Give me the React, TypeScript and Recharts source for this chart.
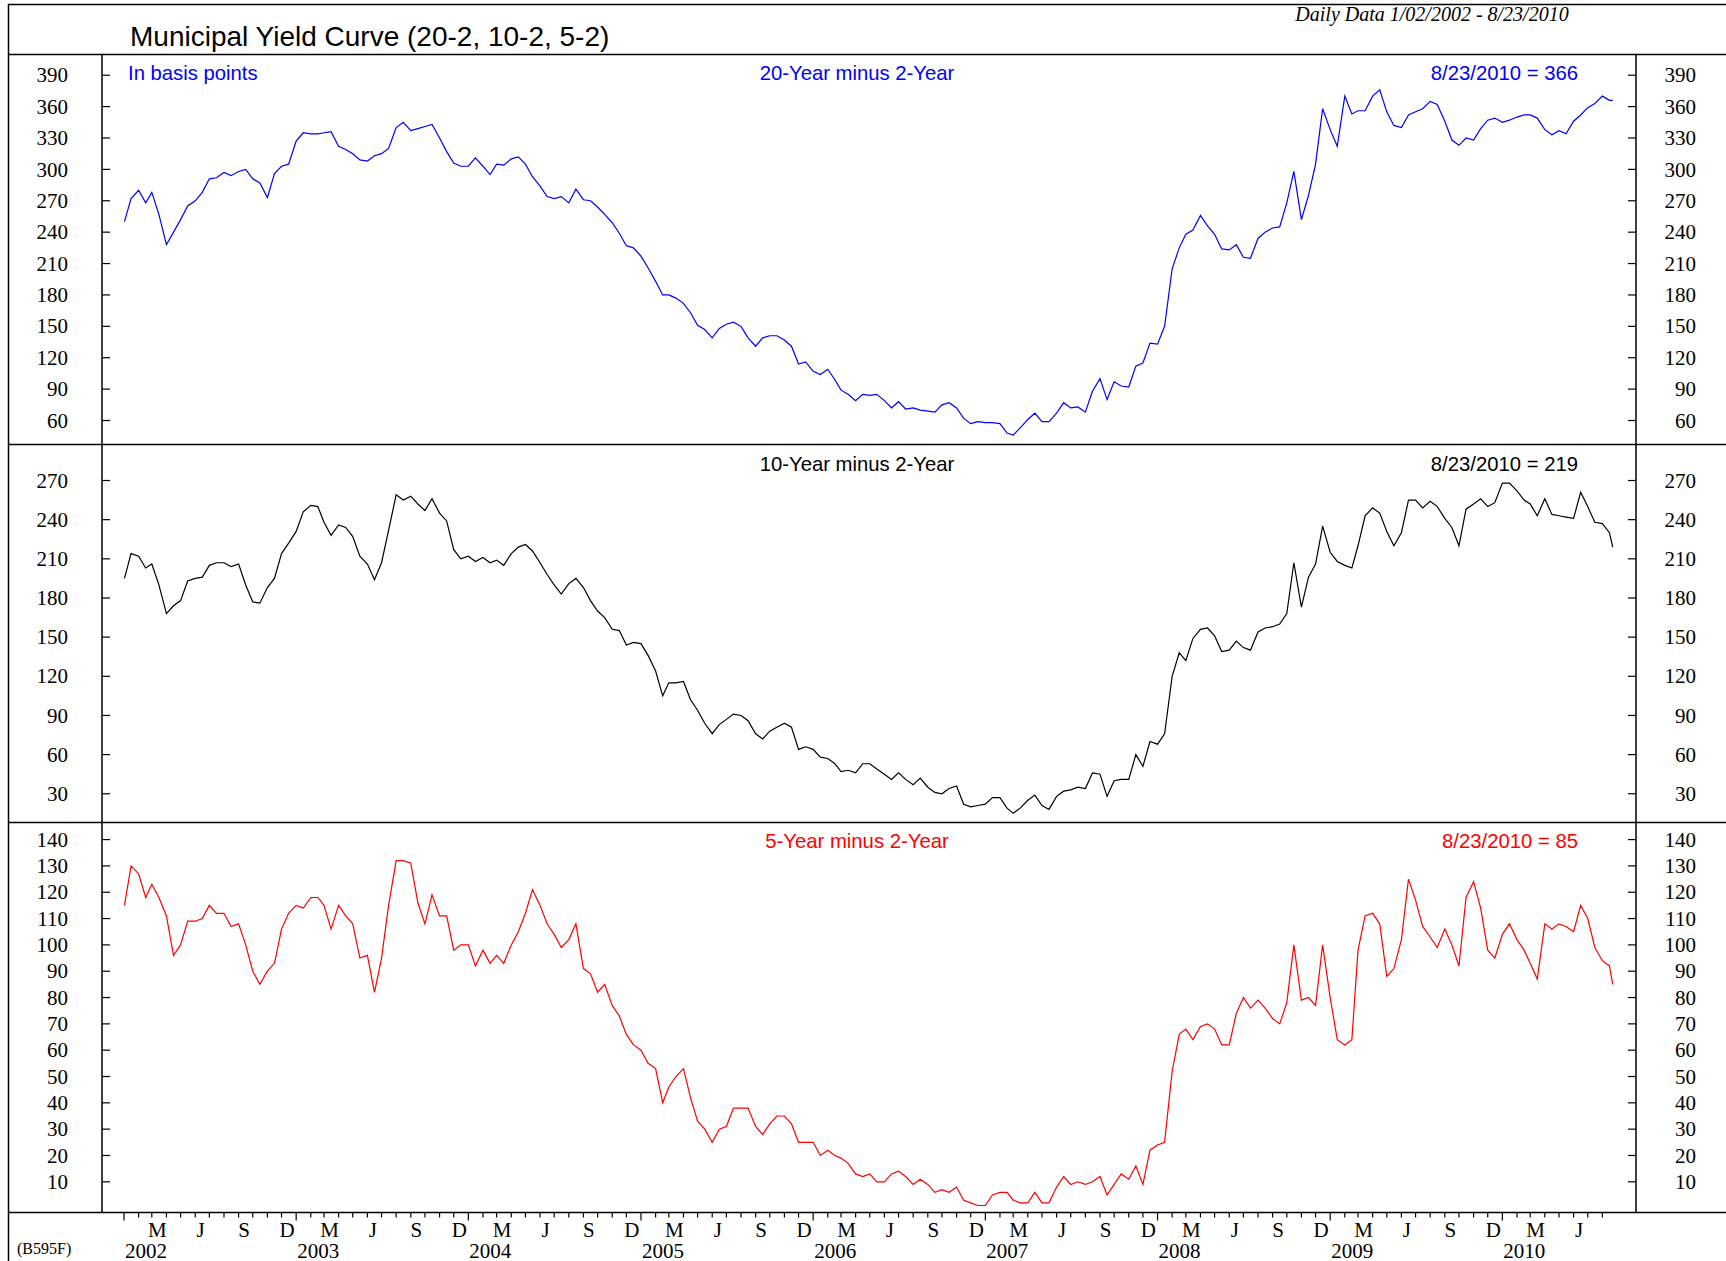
import React from 'react';
import { LineChart, Line, XAxis, YAxis } from 'recharts';

// ---------- data (semi-monthly readings, 1st & 16th of each month; first 1/02/2002, last 8/23/2010) ----------
const years = [2002, 2003, 2004, 2005, 2006, 2007, 2008, 2009, 2010];
const monthLetters = ['', '', 'M', '', '', 'J', '', '', 'S', '', '', 'D'];

const spread20_2 = [
  250, 272, 280, 268, 278, 257, 228, 240, 252, 265, 270, 278, 291, 292, 297, 294, 298, 300, 291, 287, 273, 296, 303, 305,
  327, 335, 334, 334, 335, 336, 322, 319, 315, 309, 308, 313, 315, 320, 340, 345, 337, 339, 341, 343, 330, 317, 306, 303,
  303, 311, 303, 295, 305, 304, 310, 312, 305, 293, 284, 274, 272, 274, 268, 281, 271, 270, 264, 257, 249, 239, 227, 225,
  217, 206, 193, 180, 180, 177, 172, 163, 151, 147, 139, 148, 152, 154, 150, 139, 131, 139, 141, 141, 137, 131, 114, 116,
  107, 104, 109, 99, 89, 85, 79, 85, 84, 85, 79, 72, 78, 71, 72, 70, 69, 68, 75, 77, 72, 62, 57, 59,
  58, 58, 57, 48, 46, 53, 61, 67, 59, 59, 67, 77, 72, 73, 68, 88, 100, 80, 97, 93, 92, 112, 115, 134,
  133, 150, 205, 225, 238, 242, 256, 246, 238, 224, 223, 228, 216, 215, 234, 240, 244, 245, 268, 298, 252, 275, 305, 358,
  338, 322, 370, 353, 356, 356, 370, 376, 355, 342, 340, 352, 355, 358, 365, 362, 346, 328, 323, 330, 328, 339, 347, 349,
  345, 347, 350, 352, 352, 349, 338, 333, 337, 334, 346, 352, 359, 363, 370, 366, 366,
];

const spread10_2 = [
  195, 214, 212, 203, 206, 190, 168, 174, 178, 193, 195, 196, 205, 207, 207, 204, 206, 190, 177, 176, 188, 195, 214, 222,
  231, 246, 251, 250, 238, 228, 236, 234, 227, 212, 206, 194, 207, 232, 259, 255, 258, 252, 247, 256, 245, 239, 217, 210,
  212, 208, 211, 207, 209, 205, 214, 219, 221, 216, 207, 198, 190, 183, 191, 195, 188, 178, 170, 165, 156, 155, 144, 146,
  145, 136, 124, 105, 115, 115, 116, 102, 94, 84, 76, 83, 87, 91, 90, 86, 76, 72, 78, 81, 84, 81, 64, 66,
  64, 58, 57, 53, 47, 48, 46, 53, 53, 49, 45, 41, 46, 41, 37, 42, 35, 31, 30, 34, 36, 22, 20, 21,
  22, 27, 27, 19, 15, 19, 25, 29, 21, 18, 28, 32, 33, 35, 34, 46, 45, 28, 40, 41, 41, 60, 51, 70,
  68, 76, 120, 138, 132, 149, 156, 157, 151, 139, 140, 147, 142, 140, 154, 157, 158, 160, 168, 207, 173, 196, 206, 235,
  215, 208, 205, 203, 220, 243, 249, 245, 231, 220, 230, 255, 255, 249, 254, 250, 241, 234, 220, 248, 252, 256, 250, 253,
  268, 268, 262, 255, 252, 243, 256, 244, 243, 242, 241, 261, 250, 238, 237, 230, 219,
];

const spread5_2 = [
  115, 130, 127, 118, 123, 118, 111, 96, 100, 109, 109, 110, 115, 112, 112, 107, 108, 100, 90, 85, 90, 93, 106, 112,
  115, 114, 118, 118, 115, 106, 115, 111, 108, 95, 96, 82, 95, 115, 132, 132, 131, 116, 108, 119, 111, 111, 98, 100,
  100, 92, 98, 93, 96, 93, 100, 105, 112, 121, 115, 108, 104, 99, 102, 108, 91, 89, 82, 85, 77, 73, 66, 62,
  60, 55, 53, 40, 46, 50, 53, 42, 33, 30, 25, 30, 31, 38, 38, 38, 31, 28, 32, 35, 35, 32, 25, 25,
  25, 20, 22, 20, 19, 17, 13, 12, 13, 10, 10, 13, 14, 12, 9, 11, 9, 6, 7, 6, 8, 3, 2, 1,
  1, 5, 6, 6, 3, 2, 2, 6, 2, 2, 8, 12, 9, 10, 9, 10, 12, 5, 9, 13, 11, 16, 9, 22,
  24, 25, 52, 66, 68, 64, 69, 70, 68, 62, 62, 74, 80, 76, 79, 76, 72, 70, 78, 100, 79, 80, 77, 100,
  80, 64, 62, 64, 98, 111, 112, 108, 88, 91, 102, 125, 117, 107, 103, 99, 106, 100, 92, 118, 124, 114, 98, 95,
  104, 108, 102, 98, 93, 87, 108, 106, 108, 107, 105, 115, 110, 99, 94, 92, 85,
];

const yTicks20 = [60, 90, 120, 150, 180, 210, 240, 270, 300, 330, 360, 390];
const yTicks10 = [30, 60, 90, 120, 150, 180, 210, 240, 270];
const yTicks5 = [10, 20, 30, 40, 50, 60, 70, 80, 90, 100, 110, 120, 130, 140];

// ---------- date helpers ----------
const BASE = Date.UTC(2002, 0, 1);
const dayOf = (y: number, m: number, d: number) => (Date.UTC(y, m, d) - BASE) / 86400000;

const obsDays: number[] = [];
years.forEach((y) => {
  for (let m = 0; m < 12; m++) {
    [1, 16].forEach((d) => {
      if (y === 2010 && m > 7) return;
      obsDays.push(y === 2002 && m === 0 && d === 1 ? dayOf(2002, 0, 2) : dayOf(y, m, d));
    });
  }
});
obsDays.push(dayOf(2010, 7, 23));

const rows = obsDays.map((t, i) => ({ t, s20: spread20_2[i], s10: spread10_2[i], s5: spread5_2[i] }));

const monthTicks: number[] = [];
const tickInfo = new Map<number, { y: number; m: number }>();
years.forEach((y) => {
  for (let m = 0; m < 12; m++) {
    if (y === 2010 && m > 7) continue;
    const t = dayOf(y, m, 1);
    monthTicks.push(t);
    tickInfo.set(t, { y, m });
  }
});

// ---------- layout ----------
const W = 1726;
const H = 1261;
const PL = 102; // plot left
const PR = 1636; // plot right
const Y_TOP = 54.5;
const Y1 = 444.5;
const Y2 = 822.5;
const Y3 = 1212.5;
const X_DOMAIN: [number, number] = [-46.6, 3205.3];

const SERIF = '"Liberation Serif", "Times New Roman", Times, serif';
const SANS = '"Liberation Sans", Arial, Helvetica, sans-serif';
const LINE_W = 1.2;

const makeYTick = (side: 'left' | 'right') => (props: any) => {
  const { y, payload } = props;
  const left = side === 'left';
  return (
    <g>
      <line
        x1={left ? PL : PR - 8}
        x2={left ? PL + 8 : PR}
        y1={y}
        y2={y}
        stroke="#000"
        strokeWidth={1.2}
      />
      <text
        x={left ? 68 : 1696}
        y={y}
        dy="0.34em"
        textAnchor="end"
        fontFamily={SERIF}
        fontSize={21}
        fill="#000"
      >
        {payload.value}
      </text>
    </g>
  );
};
const LeftTick = makeYTick('left');
const RightTick = makeYTick('right');

const P3_PLOT_H = Y3 - Y2;

const XTick = (props: any) => {
  const { x, payload } = props;
  const info = tickInfo.get(payload.value);
  if (!info) return <g />;
  const isYear = info.m === 0;
  const letter = monthLetters[info.m];
  return (
    <g>
      <line
        x1={x}
        x2={x}
        y1={P3_PLOT_H}
        y2={P3_PLOT_H + (isYear ? 7.5 : 4.5)}
        stroke="#000"
        strokeWidth={1.2}
      />
      {letter ? (
        <text x={x + 5.5} y={P3_PLOT_H + 23.5} textAnchor="middle" fontFamily={SERIF} fontSize={21} fill="#000">
          {letter}
        </text>
      ) : null}
      {isYear ? (
        <text x={x + 1} y={P3_PLOT_H + 44.5} textAnchor="start" fontFamily={SERIF} fontSize={21} fill="#000">
          {info.y}
        </text>
      ) : null}
    </g>
  );
};

interface PanelProps {
  dataKey: string;
  color: string;
  domain: [number, number];
  ticks: number[];
  height: number;
  showX?: boolean;
  xHeight?: number;
}

const Panel = ({ dataKey, color, domain, ticks, height, showX, xHeight = 0 }: PanelProps) => (
  <LineChart
    width={W}
    height={height + xHeight}
    data={rows}
    margin={{ top: 0, right: 0, bottom: 0, left: 0 }}
  >
    <XAxis
      type="number"
      dataKey="t"
      domain={X_DOMAIN}
      allowDataOverflow
      ticks={monthTicks}
      interval={0}
      tickLine={false}
      axisLine={false}
      tick={XTick}
      height={showX ? xHeight : 0}
      hide={!showX}
    />
    <YAxis
      yAxisId="left"
      orientation="left"
      width={PL}
      type="number"
      domain={domain}
      allowDataOverflow
      ticks={ticks}
      interval={0}
      tickLine={false}
      axisLine={false}
      tick={LeftTick}
    />
    <YAxis
      yAxisId="right"
      orientation="right"
      width={W - PR}
      type="number"
      domain={domain}
      allowDataOverflow
      ticks={ticks}
      interval={0}
      tickLine={false}
      axisLine={false}
      tick={RightTick}
    />
    <Line
      yAxisId="left"
      type="linear"
      dataKey={dataKey}
      stroke={color}
      strokeWidth={LINE_W}
      dot={false}
      activeDot={false}
      isAnimationActive={false}
    />
    <Line
      yAxisId="right"
      type="linear"
      dataKey={dataKey}
      stroke="none"
      strokeWidth={0}
      dot={false}
      activeDot={false}
      isAnimationActive={false}
    />
  </LineChart>
);

const Frame = () => (
  <svg
    width={W}
    height={H}
    style={{ position: 'absolute', left: 0, top: 0, pointerEvents: 'none' }}
  >
    <g stroke="#000" strokeWidth={1.5}>
      <line x1={8} x2={W} y1={4.5} y2={4.5} />
      <line x1={8.5} x2={8.5} y1={4} y2={H} />
      <line x1={8} x2={W} y1={Y_TOP} y2={Y_TOP} />
      <line x1={8} x2={W} y1={Y1} y2={Y1} />
      <line x1={8} x2={W} y1={Y2} y2={Y2} />
      <line x1={8} x2={W} y1={Y3} y2={Y3} />
      <line x1={PL} x2={PL} y1={Y_TOP} y2={Y3} />
      <line x1={PR} x2={PR} y1={Y_TOP} y2={Y3} />
    </g>
    <text x={130} y={46} fontFamily={SANS} fontSize={28} fill="#000">
      Municipal Yield Curve (20-2, 10-2, 5-2)
    </text>
    <text x={1432} y={21} fontFamily={SERIF} fontStyle="italic" fontSize={20} textAnchor="middle" fill="#000">
      Daily Data 1/02/2002 - 8/23/2010
    </text>
    <text x={17} y={1254} fontFamily={SERIF} fontSize={16} fill="#000">
      (B595F)
    </text>

    <g fontFamily={SANS} fontSize={20.3}>
      <text x={128} y={80} fill="#0000FF">In basis points</text>
      <text x={857} y={80} fill="#0000FF" textAnchor="middle">20-Year minus 2-Year</text>
      <text x={1578} y={80} fill="#0000FF" textAnchor="end">8/23/2010 = 366</text>

      <text x={857} y={471} fill="#000" textAnchor="middle">10-Year minus 2-Year</text>
      <text x={1578} y={471} fill="#000" textAnchor="end">8/23/2010 = 219</text>

      <text x={857} y={848} fill="#FF0000" textAnchor="middle">5-Year minus 2-Year</text>
      <text x={1578} y={848} fill="#FF0000" textAnchor="end">8/23/2010 = 85</text>
    </g>
  </svg>
);

export default function App() {
  return (
    <div
      style={{
        position: 'absolute',
        left: 0,
        top: 0,
        width: W,
        height: H,
        overflow: 'hidden',
        background: '#fff',
      }}
    >
      <div style={{ position: 'absolute', left: 0, top: Y_TOP }}>
        <Panel dataKey="s20" color="#0000FF" domain={[36.6, 409.3]} ticks={yTicks20} height={Y1 - Y_TOP} />
      </div>
      <div style={{ position: 'absolute', left: 0, top: Y1 }}>
        <Panel dataKey="s10" color="#000000" domain={[7.6, 297.2]} ticks={yTicks10} height={Y2 - Y1} />
      </div>
      <div style={{ position: 'absolute', left: 0, top: Y2 }}>
        <Panel
          dataKey="s5"
          color="#FF0000"
          domain={[-1.85, 146.3]}
          ticks={yTicks5}
          height={Y3 - Y2}
          showX
          xHeight={H - Y3}
        />
      </div>
      <Frame />
    </div>
  );
}
